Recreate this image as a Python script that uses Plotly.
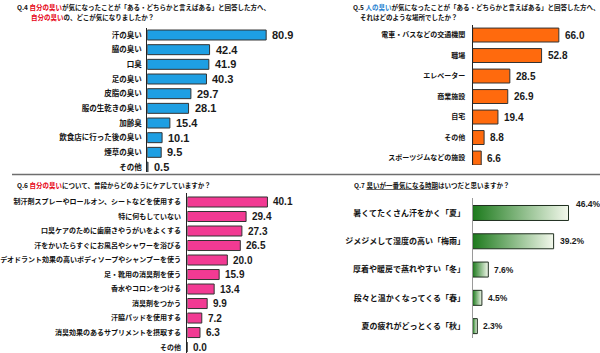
import plotly.graph_objects as go

W, H = 600, 353

# ---------------- data ----------------
q4_cats = ["汗の臭い", "脇の臭い", "口臭", "足の臭い", "皮脂の臭い", "服の生乾きの臭い",
           "加齢臭", "飲食店に行った後の臭い", "煙草の臭い", "その他"]
q4_vals = [80.9, 42.4, 41.9, 40.3, 29.7, 28.1, 15.4, 10.1, 9.5, 0.5]

q5_cats = ["電車・バスなどの交通機関", "職場", "エレベーター", "商業施設", "自宅",
           "その他", "スポーツジムなどの施設"]
q5_vals = [66.0, 52.8, 28.5, 26.9, 19.4, 8.8, 6.6]

q6_cats = ["制汗剤スプレーやロールオン、シートなどを使用する", "特に何もしていない",
           "口臭ケアのために歯磨きやうがいをよくする", "汗をかいたらすぐにお風呂やシャワーを浴びる",
           "デオドラント効果の高いボディソープやシャンプーを使う", "足・靴用の消臭剤を使う",
           "香水やコロンをつける", "消臭剤をつかう", "汗脇パッドを使用する",
           "消臭効果のあるサプリメントを摂取する", "その他"]
q6_vals = [40.1, 29.4, 27.3, 26.5, 20.0, 15.9, 13.4, 9.9, 7.2, 6.3, 0.0]

q7_cats = ["暑くてたくさん汗をかく「夏」", "ジメジメして湿度の高い「梅雨」",
           "厚着や暖房で蒸れやすい「冬」", "段々と温かくなってくる「春」",
           "夏の疲れがどっとくる「秋」"]
q7_vals = [46.4, 39.2, 7.6, 4.5, 2.3]

JP = "Noto Sans CJK JP"
NUM = "Liberation Sans"


def px(x):
    return x / W


def py(y):
    return 1 - y / H


fig = go.Figure()

panels = [
    dict(cats=q4_cats, vals=q4_vals, color="#1E9FE3", ax="", xd=(138, 288), xr=100,
         yd=(27.67, 172), yr=(9.34, -0.5), bw=0.68, tf=7.5, vf=11, suf="", stand=3),
    dict(cats=q5_cats, vals=q5_vals, color="#FF6A0D", ax="2", xd=(470, 590), xr=90,
         yd=(25, 165), yr=(6.34, -0.49), bw=0.68, tf=7, vf=10, suf="", stand=5),
    dict(cats=q6_cats, vals=q6_vals, color="#F23A93", ax="3", xd=(179, 291), xr=55,
         yd=(193, 353), yr=(10.41, -0.62), bw=0.69, tf=7, vf=10, suf="", stand=4),
    dict(cats=q7_cats, vals=q7_vals, color=None, ax="4", xd=(470, 586), xr=55,
         yd=(198, 338), yr=(4.42, -0.53), bw=0.53, tf=8, vf=8.5, suf="%", stand=5),
]

annotations = []
layout_axes = {}
for p in panels:
    idx = list(range(len(p["cats"])))
    xa = "x" + p["ax"]
    ya = "y" + p["ax"]
    if p["color"] is not None:
        fig.add_trace(go.Bar(
            x=p["vals"], y=idx, orientation="h", width=p["bw"],
            marker=dict(color=p["color"], line=dict(color="#333333", width=1)),
            xaxis=xa, yaxis=ya, hoverinfo="skip", showlegend=False,
        ))
    else:
        h = p["bw"] / 2
        for i, v in zip(idx, p["vals"]):
            fig.add_trace(go.Scatter(
                x=[0, v, v, 0, 0], y=[i - h, i - h, i + h, i + h, i - h],
                mode="lines", fill="toself",
                fillgradient=dict(type="horizontal",
                                  colorscale=[[0, "#1C7A1C"], [1, "#F3F8EC"]]),
                line=dict(color="#1f2f1f", width=1),
                xaxis=xa, yaxis=ya, hoverinfo="skip", showlegend=False,
            ))
    for i, v in zip(idx, p["vals"]):
        shift_x, shift_y = 4, 0
        if p["suf"] and i == 0:
            shift_x, shift_y = 5, 9
        annotations.append(dict(
            x=v, y=i, xref=xa, yref=ya, text=f"<b>{v:.1f}{p['suf']}</b>",
            showarrow=False, xanchor="left", yanchor="middle",
            xshift=shift_x, yshift=shift_y,
            font=dict(family=NUM, size=p["vf"], color="#1a1a1a"),
        ))
    key = "" if p["ax"] == "" else p["ax"]
    layout_axes["xaxis" + key] = dict(
        domain=[px(p["xd"][0]), px(p["xd"][1])], range=[0, p["xr"]],
        visible=False, anchor=ya, fixedrange=True,
    )
    layout_axes["yaxis" + key] = dict(
        domain=[py(p["yd"][1]), py(p["yd"][0])], range=list(p["yr"]),
        tickmode="array", tickvals=idx, ticktext=p["cats"],
        showline=True, linecolor="#222222" if p["ax"] != "4" else "#9a9a9a",
        linewidth=1, showgrid=False, zeroline=False, ticks="",
        ticklabelstandoff=p["stand"],
        tickfont=dict(family=JP, size=p["tf"], color="#111111", weight="bold"),
        anchor=xa, fixedrange=True,
    )

title_font = dict(family=JP, size=6.5, color="#111111", weight="bold")
RED = "#E60012"
BLUE = "#1E7FD0"
titles = [
    (3, 7, f"Q.4 <span style='color:{RED}'>自分の臭い</span>が気になったことが「ある・どちらかと言えばある」と回答した方へ、"),
    (17, 17, f"<span style='color:{RED}'>自分の臭い</span>の、どこが気になりましたか？"),
    (346, 7, f"Q.5 <span style='color:{BLUE}'>人の臭い</span>が気になったことが「ある・どちらかと言えばある」と回答した方へ、"),
    (353, 17, "それはどのような場所でしたか？"),
    (3, 185, f"Q.6 <span style='color:{RED}'>自分の臭い</span>について、普段からどのようにケアしていますか？"),
    (347, 185, "Q.7 <span style='text-decoration:underline'>臭いが一番気になる時期</span>はいつだと思いますか？"),
]
for x, y, t in titles:
    annotations.append(dict(
        x=px(x), y=py(y), xref="paper", yref="paper", text=t, showarrow=False,
        xanchor="left", yanchor="middle", font=title_font,
    ))

fig.update_layout(
    width=W, height=H,
    margin=dict(l=0, r=0, t=0, b=0),
    paper_bgcolor="white", plot_bgcolor="white",
    showlegend=False,
    annotations=annotations,
    shapes=[dict(type="line", xref="paper", yref="paper", x0=0, x1=1,
                 y0=py(174.5), y1=py(174.5), line=dict(color="#6e6e6e", width=1.5))],
    **layout_axes,
)

fig.write_html("out.html", config={"displayModeBar": False})
